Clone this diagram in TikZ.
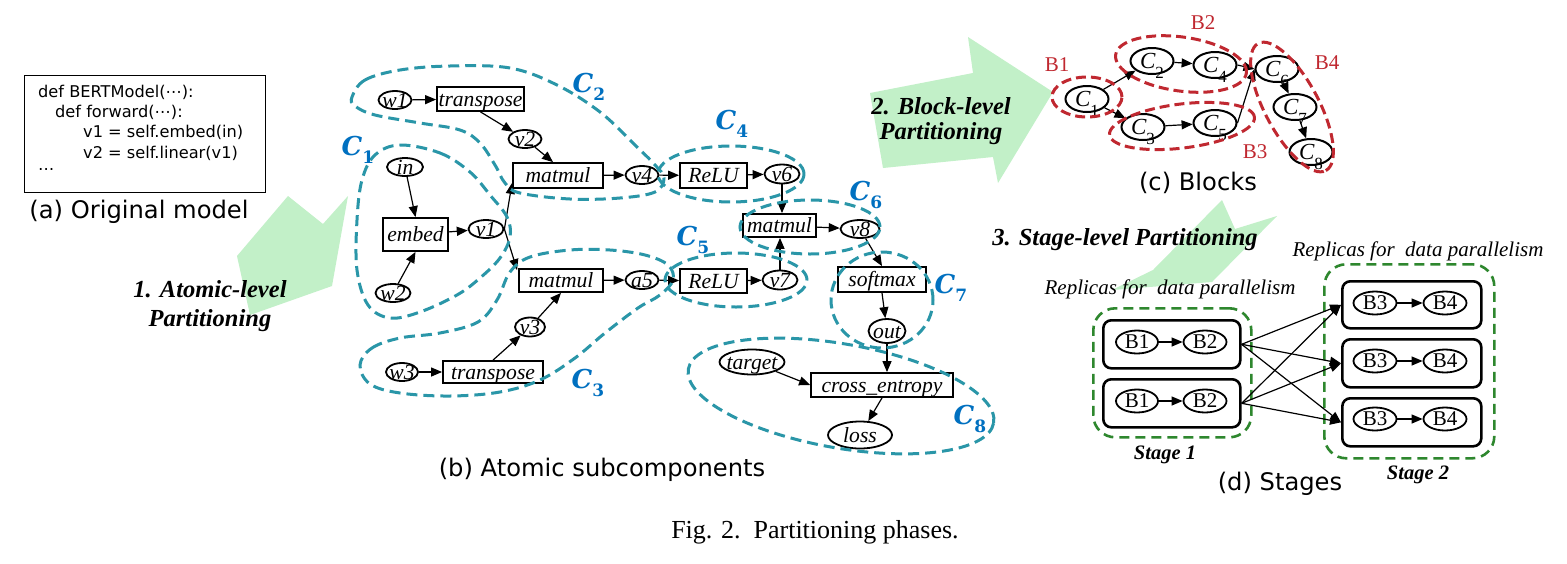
\documentclass[tikz,border=0pt]{standalone}
\usepackage{fontspec}
\setmainfont{Liberation Serif}
\newfontfamily\sansf{DejaVu Sans}
\newfontfamily\clfont{DejaVu Serif}
\usetikzlibrary{arrows.meta,shapes.geometric,calc}
\definecolor{arrgreen}{RGB}{194,240,200}
\definecolor{cteal}{RGB}{42,150,168}
\definecolor{cblue}{RGB}{0,112,192}
\definecolor{cred}{RGB}{192,40,48}
\definecolor{cdgreen}{RGB}{46,135,46}
\newcommand\mylab[1]{\smash{\raisebox{-0.33em}{\makebox[0pt]{#1}}}}
\newcommand\csub[1]{C\raisebox{-0.3em}{\fontsize{17}{17}\selectfont\upshape #1}}
\newcommand\bsub[1]{C\raisebox{-0.42em}{\fontsize{17}{17}\selectfont\upshape #1}}
\begin{document}
\begin{tikzpicture}[x=1pt,y=-1pt,
  ov/.style 2 args={ellipse,draw,line width=1.8pt,inner sep=0pt,minimum width=#1,minimum height=#2,font=\fontsize{21.6}{22}\selectfont\itshape},
  bx/.style 2 args={rectangle,draw,line width=1.8pt,inner sep=0pt,minimum width=#1,minimum height=#2,font=\fontsize{21.6}{22}\selectfont\itshape},
  ed/.style={-{Triangle[length=11pt,width=9pt]},line width=1.2pt},
  cl/.style={draw=cteal,line width=3pt,dash pattern=on 11pt off 6pt},
  rb/.style={draw=cred,line width=3pt,dash pattern=on 10pt off 5pt},
  gb/.style={draw=cdgreen,line width=2.6pt,dash pattern=on 10pt off 6pt,rounded corners=22pt},
  clab/.style={text=cblue,inner sep=0pt,font=\clfont\fontsize{26}{26}\selectfont\bfseries\itshape},
  blab/.style={text=cred,inner sep=0pt,font=\fontsize{21}{21}\selectfont},
  cnode/.style={ellipse,draw,line width=2pt,inner sep=0pt,minimum width=43pt,minimum height=26pt,font=\fontsize{23}{23}\selectfont\itshape},
  snode/.style={ellipse,draw,line width=1.8pt,inner sep=0pt,minimum width=43pt,minimum height=23pt,font=\fontsize{21}{21}\selectfont},
  rbox/.style={draw,line width=2.6pt,rounded corners=8pt},
  capt/.style={inner sep=0pt,font=\sansf\fontsize{24.2}{26}\selectfont},
  codef/.style={inner sep=0pt,font=\sansf\fontsize{16.2}{18}\selectfont},
  phase/.style={inner sep=0pt,align=center,font=\fontsize{24.5}{28}\selectfont\bfseries\itshape},
  rep/.style={inner sep=0pt,font=\fontsize{21}{22}\selectfont\itshape},
  stg/.style={inner sep=0pt,font=\fontsize{20.5}{22}\selectfont\bfseries\itshape}
]
\fill[white] (0,0) rectangle (1567,563);
\useasboundingbox (0,0) rectangle (1567,563);

% ---------- green phase arrows ----------
\fill[arrgreen] (288,196) -- (323,224) -- (348,196) -- (332,286) -- (250,315) -- (237,256) -- cycle;
\fill[arrgreen] (870,93) -- (973,73) -- (968,37) -- (1053,92) -- (998,183) -- (993,157) -- (883,168) -- cycle;
\fill[arrgreen] (1222,200) -- (1235,229) -- (1277,216) -- (1212,282) -- (1112,290) -- (1153,270) -- cycle;

% ---------- (a) original model ----------
\node[draw,line width=1.3pt,inner sep=0pt,minimum width=241pt,minimum height=117pt,anchor=north west] (codebox) at (24,75) {};
\node[codef,anchor=base west] (cl1) at (38,97) {def BERTModel(⋯):};
\node[codef,anchor=base west] (cl2) at (55,117) {def forward(⋯):};
\node[codef,anchor=base west] (cl3) at (83,137.5) {v1 = self.embed(in)};
\node[codef,anchor=base west] (cl4) at (83,158) {v2 = self.linear(v1)};
\node[codef,anchor=base west] (cl5) at (38,170) {…};
\node[capt] (capa) at (139,212) {(a) Original model};
\node[phase] (ph1) at (210,306) {1. Atomic-level\\[1pt]Partitioning};

% ---------- (b) atomic subcomponents ----------
\node[ov={33pt}{18pt}] (w1) at (395,100) {\mylab{w1}};
\node[bx={87pt}{24pt}] (tr1) at (480.5,99) {\mylab{transpose}};
\node[ov={33pt}{18pt}] (v2) at (525,139) {\mylab{v2}};
\node[bx={90pt}{25pt}] (mm1) at (558,175.5) {\mylab{matmul}};
\node[ov={33pt}{18pt}] (v4) at (642,175) {\mylab{v4}};
\node[ov={36pt}{18pt}] (inn) at (405,167) {\mylab{in}};
\node[bx={65pt}{33pt}] (emb) at (415.5,234.5) {\mylab{embed}};
\node[ov={35pt}{18pt}] (v1) at (486,229) {\mylab{v1}};
\node[ov={35pt}{18pt}] (w2) at (393,293) {\mylab{w2}};
\node[bx={84pt}{23pt}] (mm2) at (561,280.5) {\mylab{matmul}};
\node[ov={33pt}{18pt}] (a5) at (642,280) {\mylab{a5}};
\node[ov={30pt}{19pt}] (v3) at (530,327) {\mylab{v3}};
\node[ov={32pt}{18pt}] (w3) at (402,372) {\mylab{w3}};
\node[bx={100pt}{22pt}] (tr2) at (493,372) {\mylab{transpose}};
\node[bx={67pt}{25pt}] (relu1) at (713.5,175.5) {\mylab{ReLU}};
\node[ov={35pt}{19pt}] (v6) at (782,174) {\mylab{v6}};
\node[bx={73pt}{23pt}] (mm3) at (779.5,225.5) {\mylab{matmul}};
\node[ov={39pt}{18pt}] (v8) at (860,229) {\mylab{v8}};
\node[bx={67pt}{24pt}] (relu2) at (713.5,281) {\mylab{ReLU}};
\node[ov={35pt}{19pt}] (v7) at (780,280) {\mylab{v7}};
\node[bx={88pt}{25pt}] (smax) at (882,279.5) {\mylab{softmax}};
\node[ov={37pt}{24pt}] (out) at (887,331) {\mylab{out}};
\node[ov={65pt}{25pt}] (target) at (752,362) {\mylab{target}};
\node[bx={142pt}{24pt}] (xent) at (882,385) {\mylab{cross\_entropy}};
\node[ov={64pt}{27pt}] (loss) at (860,435) {\mylab{loss}};

\draw[ed] (w1) -- (tr1);
\draw[ed] (tr1.south) -- (v2);
\draw[ed] (v2) -- ($(mm1.north)+(-5,0)$);
\draw[ed] (mm1) -- (v4);
\draw[ed] (inn) -- (emb.north);
\draw[ed] (emb) -- (v1);
\draw[ed] (w2) -- (emb.south);
\draw[ed] (v1.east) -- ($(mm1.south west)+(0,-6)$);
\draw[ed] (v1.east) -- ($(mm2.north west)+(-1,2)$);
\draw[ed] (v3) -- (mm2.south);
\draw[ed] (tr2.north) -- (v3);
\draw[ed] (w3) -- (tr2);
\draw[ed] (mm2) -- (a5);
\draw[ed] (v4) -- (relu1);
\draw[ed] (relu1) -- (v6);
\draw[ed] (a5) -- (relu2);
\draw[ed] (relu2) -- (v7);
\draw[ed] (v6) -- (mm3.north -| v6);
\draw[ed] (v7) -- (mm3.south -| v7);
\draw[ed] (mm3) -- (v8);
\draw[ed] (v8) -- (smax.north);
\draw[ed] (smax.south) -- (out);
\draw[ed] (out) -- (xent.north -| out);
\draw[ed] (target) -- (xent.west);
\draw[ed] (xent.south) -- (loss);

% clusters
\draw[cl] plot[smooth cycle,tension=0.6] coordinates {(400,145) (440,153) (470,172) (490,195) (507,217) (510,237) (500,258) (480,278) (457,295) (420,312) (390,318) (368,305) (357,270) (357,220) (362,180) (375,155)};
\draw[cl] plot[smooth cycle,tension=0.6] coordinates {(352,97) (365,80) (400,70) (450,66) (510,68) (557,85) (600,112) (635,145) (655,165) (664,178) (655,192) (620,198) (570,199) (520,193) (505,183) (495,165) (480,143) (460,130) (420,123) (375,115) (355,106)};
\draw[cl] plot[smooth cycle,tension=0.6] coordinates {(360,365) (372,348) (400,338) (440,333) (478,322) (497,300) (510,272) (530,257) (570,250) (610,250) (645,255) (668,265) (673,280) (660,295) (638,308) (605,333) (575,358) (540,380) (500,392) (450,396) (400,393) (370,384)};
\draw[cl] (731,174) ellipse [x radius=73pt,y radius=28pt];
\draw[cl] (736,280) ellipse [x radius=71pt,y radius=27pt];
\draw[cl] (810,227) ellipse [x radius=70pt,y radius=27pt];
\draw[cl] (882,300) ellipse [x radius=51pt,y radius=48pt];
\draw[cl,rotate around={-10:(841,396)}] (841,396) ellipse [x radius=155pt,y radius=52pt];

\node[clab] (lc1) at (358,150) {\csub{1}};
\node[clab] (lc2) at (589,87) {\csub{2}};
\node[clab] (lc3) at (588,383) {\csub{3}};
\node[clab] (lc4) at (732,124) {\csub{4}};
\node[clab] (lc5) at (693,240) {\csub{5}};
\node[clab] (lc6) at (866,195) {\csub{6}};
\node[clab] (lc7) at (951,288) {\csub{7}};
\node[clab] (lc8) at (970,419) {\csub{8}};

\node[capt] (capb) at (602,470) {(b) Atomic subcomponents};

% ---------- (c) blocks ----------
\node[phase] (ph2) at (941,121) {2. Block-level\\[-3pt]Partitioning};
\node[cnode] (k1) at (1087,99) {\mylab{\bsub{1}}};
\node[cnode] (k2) at (1152,61) {\mylab{\bsub{2}}};
\node[cnode] (k4) at (1215,65) {\mylab{\bsub{4}}};
\node[cnode] (k3) at (1143,127) {\mylab{\bsub{3}}};
\node[cnode] (k5) at (1215,123) {\mylab{\bsub{5}}};
\node[cnode] (k6) at (1277,69) {\mylab{\bsub{6}}};
\node[cnode] (k7) at (1295,107) {\mylab{\bsub{7}}};
\node[cnode] (k8) at (1311,152) {\mylab{\bsub{8}}};
\draw[ed] (k1) -- (k2);
\draw[ed] (k1) -- (k3);
\draw[ed] (k2) -- (k4);
\draw[ed] (k3) -- (k5);
\draw[ed] (k4.east) -- (k6.west);
\draw[ed] (k5.east) -- (k6.west);
\draw[ed] (k6) -- (k7);
\draw[ed] (k7) -- (k8);
\draw[rb] (1087,97) ellipse [x radius=35pt,y radius=20pt];
\draw[rb,rotate around={-8:(1181,64)}] (1181,64) ellipse [x radius=66pt,y radius=27pt];
\draw[rb,rotate around={7:(1182,126)}] (1182,126) ellipse [x radius=73pt,y radius=22pt];
\draw[rb,rotate around={-62:(1292,107)}] (1292,107) ellipse [x radius=72pt,y radius=27pt];
\node[blab] (lb1) at (1057,65) {B1};
\node[blab] (lb2) at (1203,23) {B2};
\node[blab] (lb3) at (1255,152) {B3};
\node[blab] (lb4) at (1327,63) {B4};
\node[capt] (capc) at (1198,183) {(c) Blocks};

% ---------- (d) stages ----------
\node[phase] (ph3) at (1125,240) {3. Stage-level Partitioning};
\node[rep] (rep1) at (1170,289) {Replicas for\ \ data parallelism};
\node[rep] (rep2) at (1418,251) {Replicas for\ \ data parallelism};

\node[gb,minimum width=158pt,minimum height=129pt,anchor=north west] (st1) at (1092,307) {};
\node[gb,minimum width=170pt,minimum height=194pt,anchor=north west] (st2) at (1323,263) {};

\node[rbox,minimum width=137pt,minimum height=48pt,anchor=north west] (r11) at (1102,319) {};
\node[rbox,minimum width=137pt,minimum height=48pt,anchor=north west] (r12) at (1102,378) {};
\node[rbox,minimum width=139pt,minimum height=47pt,anchor=north west] (r21) at (1341,280) {};
\node[rbox,minimum width=139pt,minimum height=48pt,anchor=north west] (r22) at (1341,338) {};
\node[rbox,minimum width=139pt,minimum height=48pt,anchor=north west] (r23) at (1341,397) {};

\node[snode,minimum width=42pt] (s1a) at (1137,342) {\mylab{B1}};
\node[snode] (s1b) at (1205,342) {\mylab{B2}};
\node[snode,minimum width=42pt] (s2a) at (1137,401) {\mylab{B1}};
\node[snode] (s2b) at (1205,401) {\mylab{B2}};
\node[snode] (t1a) at (1375,303) {\mylab{B3}};
\node[snode] (t1b) at (1445,303) {\mylab{B4}};
\node[snode] (t2a) at (1375,361) {\mylab{B3}};
\node[snode] (t2b) at (1445,361) {\mylab{B4}};
\node[snode] (t3a) at (1375,419) {\mylab{B3}};
\node[snode] (t3b) at (1445,419) {\mylab{B4}};
\draw[ed] (s1a) -- (s1b);
\draw[ed] (s2a) -- (s2b);
\draw[ed] (t1a) -- (t1b);
\draw[ed] (t2a) -- (t2b);
\draw[ed] (t3a) -- (t3b);

\foreach \s in {r11,r12}{
  \foreach \t in {r21,r22,r23}{
    \draw[ed] (\s.east) -- (\t.west);
  }
}

\node[stg] (lst1) at (1165,455) {Stage 1};
\node[stg] (lst2) at (1418,475) {Stage 2};
\node[capt] (capd) at (1280,484) {(d) Stages};

% ---------- figure caption ----------
\node[inner sep=0pt,font=\fontsize{26}{26}\selectfont] (fig) at (815,532) {Fig. 2.\ \ Partitioning phases.};
\end{tikzpicture}
\end{document}
